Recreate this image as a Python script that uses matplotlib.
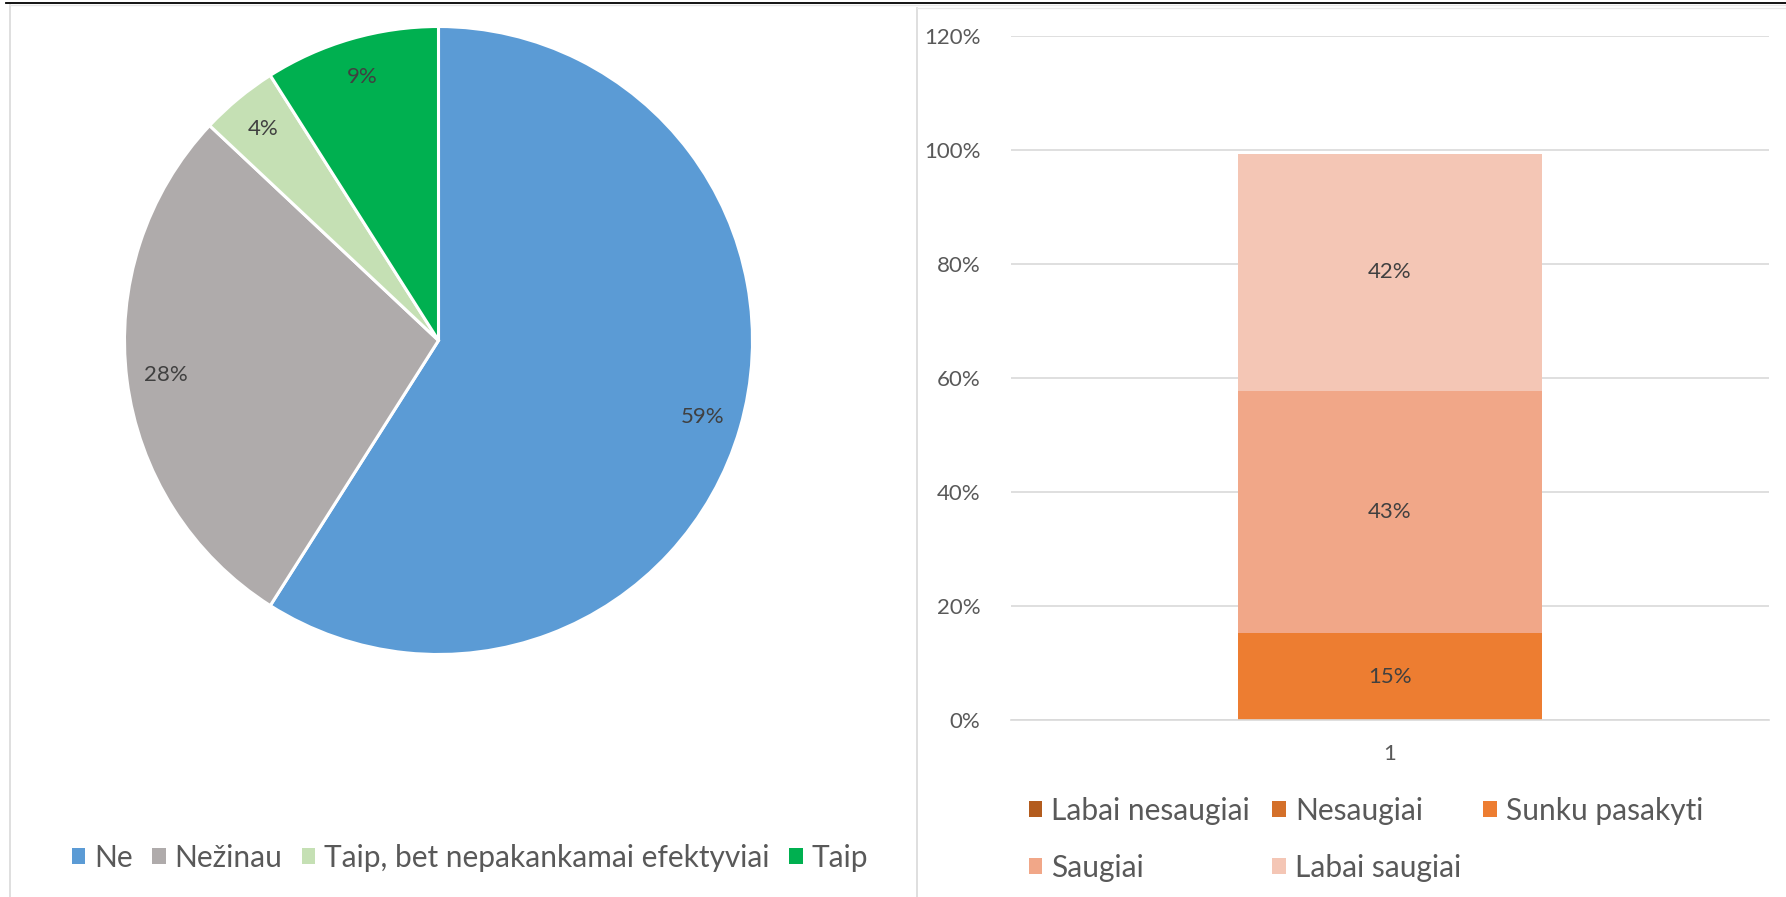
import matplotlib.pyplot as plt
from matplotlib.patches import Patch
from matplotlib.lines import Line2D

plt.rcParams['font.family'] = ['Lato', 'DejaVu Sans']

# pie data
pie_labels = ['Ne', 'Nežinau', 'Taip, bet nepakankamai efektyviai', 'Taip']
pie_values = [59, 28, 4, 9]
pie_colors = ['#5B9BD5', '#AFABAB', '#C5E0B4', '#00B050']

# stacked bar data (share of answers)
bar_labels = ['Labai nesaugiai', 'Nesaugiai', 'Sunku pasakyti', 'Saugiai', 'Labai saugiai']
bar_values = [0.0, 0.0, 0.152, 0.426, 0.416]
bar_colors = ['#B35C1E', '#D4702A', '#ED7D31', '#F1A788', '#F4C6B5']
bar_category = ['1']
y_ticks = [0, 0.2, 0.4, 0.6, 0.8, 1.0, 1.2]

W, H = 1786, 897
fig = plt.figure(figsize=(W / 100, H / 100), dpi=100)


def px_axes(left, top, right, bottom):
    return fig.add_axes([left / W, 1 - bottom / H, (right - left) / W, (bottom - top) / H])


# frames of the two panels
frame = fig.add_axes([0, 0, 1, 1])
frame.set_xlim(0, W)
frame.set_ylim(H, 0)
frame.axis('off')
frame.add_line(Line2D([6, W], [3.5, 3.5], color='black', lw=1.3))
frame.add_line(Line2D([10, 10], [5, H], color='#D9D9D9', lw=1.2))
frame.add_line(Line2D([10, W], [5.5, 5.5], color='#E6E6E6', lw=1))
frame.add_line(Line2D([917, 917], [8, H], color='#D9D9D9', lw=1.2))
frame.add_line(Line2D([917, W], [8, 8], color='#E6E6E6', lw=1))

# pie
ax1 = px_axes(124.5, 26.5, 752.5, 654.5)
wedges, _, autotexts = ax1.pie(
    pie_values, colors=pie_colors, startangle=90, counterclock=False,
    autopct='%1.0f%%', pctdistance=0.875, radius=1,
    wedgeprops=dict(edgecolor='white', linewidth=2.2),
    textprops=dict(color='#404040', fontsize=16))
ax1.set_xlim(-1.0, 1.0)
ax1.set_ylim(-1.0, 1.0)
ax1.axis('off')

fig.legend(handles=[Patch(facecolor=c, edgecolor='none', label=l) for c, l in zip(pie_colors, pie_labels)],
           loc='center', bbox_to_anchor=(470 / W, 1 - 858 / H), ncol=4, frameon=False,
           fontsize=21.5, labelcolor='#595959', handlelength=0.45, handleheight=0.45,
           handletextpad=0.3, columnspacing=0.65)

# stacked bar
ax2 = px_axes(1011, 36.5, 1769, 720)
bottom = 0
for lab, val, col in zip(bar_labels, bar_values, bar_colors):
    bars = ax2.bar(bar_category, [val], bottom=bottom, width=0.402, color=col, label=lab)
    if val > 0:
        ax2.bar_label(bars, labels=[f'{val:.0%}'], label_type='center', color='#404040', fontsize=16)
    bottom += val

ax2.set_xlim(-0.5, 0.5)
ax2.set_ylim(0, 1.2)
ax2.set_yticks(y_ticks)
ax2.set_yticklabels([f'{t:.0%}' for t in y_ticks])
ax2.yaxis.grid(True, color='#D9D9D9', lw=1.2)
ax2.set_axisbelow(True)
for s in ['top', 'right', 'left']:
    ax2.spines[s].set_visible(False)
ax2.spines['bottom'].set_color('#D9D9D9')
ax2.spines['bottom'].set_linewidth(1.2)
ax2.tick_params(axis='y', length=0, pad=22, labelsize=16, labelcolor='#595959')
ax2.tick_params(axis='x', length=0, pad=17, labelsize=16, labelcolor='#595959')

order = [0, 3, 1, 4, 2]
handles = [Patch(facecolor=bar_colors[i], edgecolor='none', label=bar_labels[i]) for i in order]
fig.legend(handles=handles, loc='upper left', bbox_to_anchor=(1002 / W, 1 - 770 / H), ncol=3,
           frameon=False, fontsize=21.5, labelcolor='#595959', handlelength=0.45, handleheight=0.45,
           handletextpad=0.3, columnspacing=0.75, labelspacing=0.97)

fig.savefig('out.png', dpi=100, facecolor='white')
